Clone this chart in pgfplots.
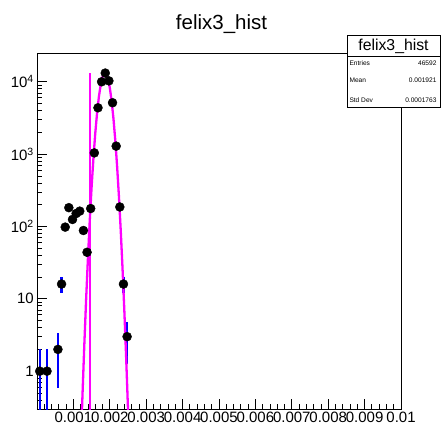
\documentclass[border=0pt]{standalone}
\usepackage{fontspec}
\setmainfont{Liberation Sans}
\usepackage{pgfplots}
\pgfplotsset{compat=1.18}
\usepackage{pgfplotstable}
\definecolor{rootmag}{RGB}{255,0,255}
\definecolor{rootblue}{RGB}{0,0,255}

\pgfplotstableread{
x y ep em
0.000075 1 1 0.999
0.000275 1 1 0.999
0.000575 2 1.414 1.414
0.000675 16 4 4
0.000775 98 9.9 9.9
0.000875 182 13.5 13.5
0.000975 125 11.2 11.2
0.001075 151 12.3 12.3
0.001175 163 12.8 12.8
0.001275 88 9.4 9.4
0.001375 44 6.6 6.6
0.001475 177 13.3 13.3
0.001575 1040 32.2 32.2
0.001675 4370 66.1 66.1
0.001775 10000 100 100
0.001875 13200 114.9 114.9
0.001975 10300 101.5 101.5
0.002075 5130 71.6 71.6
0.002175 1290 35.9 35.9
0.002275 186 13.6 13.6
0.002375 16 4 4
0.002475 3 1.73 1.73
}\histdata

\pgfplotstableread{
x y
0.00120 0.0847
0.00125 0.474
0.00130 2.33
0.00135 9.96
0.00140 37.3
0.00145 122.3
0.00150 350.5
0.00155 878
0.00160 1927
0.00165 3696
0.00170 6197
0.00175 9092
0.00180 11663
0.001868 13200
0.00190 12844
0.00195 11026
0.00200 8276
0.00205 5435
0.00210 3121
0.00215 1568
0.00220 688.5
0.00225 264.5
0.00230 88.9
0.00235 26.1
0.00240 6.72
0.00245 1.51
0.00250 0.297
0.00255 0.051
}\fitdata

\pgfplotstableread{
x y
0.001456 13100
0.001456 0.1
}\fitedge

\begin{document}
\begin{tikzpicture}
\useasboundingbox (-37pt,-18pt) rectangle (406pt,409pt);
\begin{axis}[
  at={(0pt,0pt)}, anchor=south west,
  scale only axis, width=364pt, height=356pt,
  xmin=0, xmax=0.01,
  ymode=log, ymin=0.3, ymax=25000,
  axis line style={line width=0.8pt},
  xtick={0,0.001,0.002,0.003,0.004,0.005,0.006,0.007,0.008,0.009,0.01},
  xticklabels={,0.001,0.002,0.003,0.004,0.005,0.006,0.007,0.008,0.009,0.01},
  scaled x ticks=false,
  minor x tick num=4,
  xtick pos=bottom, ytick pos=left, tick align=inside,
  major tick length=10pt, minor tick length=5pt,
  tick style={line width=0.8pt, black},
  /pgf/number format/assume math mode=true,
  tick label style={font=\fontsize{15}{15}\selectfont},
  xticklabel style={inner sep=0pt, yshift=-3pt},
  yticklabel style={inner sep=0pt, xshift=-3pt},
  yticklabel={\pgfmathtruncatemacro\myexp{round(\tick/2.302585093)}\ifcase\myexp\relax 1\or 10\else 10\textsuperscript{\myexp}\fi},
]
\addplot[draw=none, mark=none, forget plot,
  error bars/.cd, y dir=both, y explicit, error mark=none,
  error bar style={draw=rootblue, line width=2.2pt}]
  table[x=x, y=y, y error plus=ep, y error minus=em] {\histdata};
\addplot[only marks, mark=*, mark size=4.5pt, black] table[x=x, y=y] {\histdata};
\addplot[rootmag, line width=2.3pt] table[x=x, y=y] {\fitdata};
\addplot[rootmag, line width=2.3pt] table[x=x, y=y] {\fitedge};
\end{axis}
\node[anchor=base, font=\fontsize{20.5}{20}\selectfont] at (184.5pt,379.7pt) {felix3\_hist};
\draw[fill=white, line width=0.8pt] (310pt,302pt) rectangle (403pt,374pt);
\draw[line width=0.8pt] (310pt,353pt) -- (403pt,353pt);
\node[font=\fontsize{15.8}{16}\selectfont] at (356.5pt,362.5pt) {felix3\_hist};
\begin{scope}[every node/.style={font=\fontsize{6.6}{7}\selectfont, inner sep=0pt}]
\node[anchor=west] at (312.3pt,345.7pt) {Entries};
\node[anchor=east] at (399.7pt,345.7pt) {46592};
\node[anchor=west] at (312.3pt,328.3pt) {Mean};
\node[anchor=east] at (399.7pt,328.3pt) {0.001921};
\node[anchor=west] at (312.3pt,309pt) {Std Dev};
\node[anchor=east] at (399.7pt,309pt) {0.0001763};
\end{scope}
\end{tikzpicture}
\end{document}
